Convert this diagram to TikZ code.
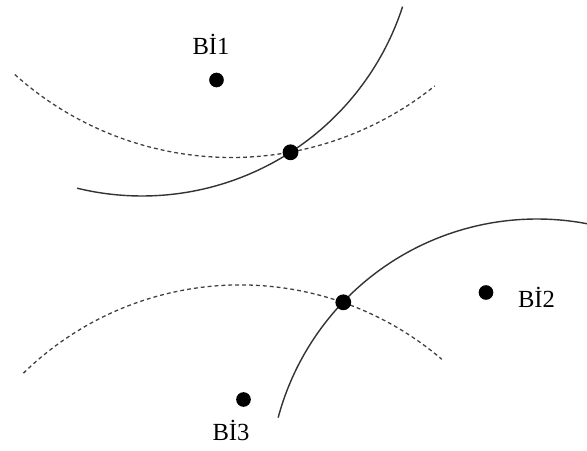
\documentclass[tikz,border=0pt]{standalone}
\usepackage{fontspec}
\setmainfont{Liberation Serif}
\begin{document}
\begin{tikzpicture}[x=0.03cm, y=-0.03cm,
  dot/.style={circle, fill=black, inner sep=0pt, minimum size=#1},
  dot/.default=12.5pt,
  lbl/.style={anchor=base, inner sep=0pt, font=\fontsize{21}{25}\selectfont},
  circarc/.style={line width=1.2pt, draw=black!80},
  dasharc/.style={line width=1.1pt, draw=black!75, dash pattern=on 3.3pt off 2.6pt}]
  \useasboundingbox (0,0) rectangle (587,451);
  \begin{scope}
    \clip (0,0) rectangle (587,451);
    % upper pair of position circles
    \draw[circarc] plot[domain=103.7:18, samples=120]
      ({142+274*cos(\x)}, {-78+274*sin(\x)});
    \draw[dasharc] plot[domain=131.9:51.2, samples=140]
      ({231.5+324.5*cos(\x)}, {-167+324.5*sin(\x)});
    % lower pair of position circles
    \draw[circarc] plot[domain=195:285, samples=120]
      ({537+268*cos(\x)}, {487+268*sin(\x)});
    \draw[dasharc] plot[domain=225.7:310.5, samples=140]
      ({240.2+310.4*cos(\x)}, {595.3+310.4*sin(\x)});
  \end{scope}
  % stations
  \node[dot] (b1) at (216.5,80) {};
  \node[dot] (b2) at (486,292.5) {};
  \node[dot] (b3) at (243.5,399.5) {};
  % intersection points
  \node[dot=13.5pt] (p1) at (290.5,152.3) {};
  \node[dot=13.5pt] (p2) at (343.3,302.3) {};
  % labels
  \node[lbl] (l1) at (211,55) {Bİ1};
  \node[lbl] (l2) at (536.5,307) {Bİ2};
  \node[lbl] (l3) at (231,440) {Bİ3};
\end{tikzpicture}
\end{document}
